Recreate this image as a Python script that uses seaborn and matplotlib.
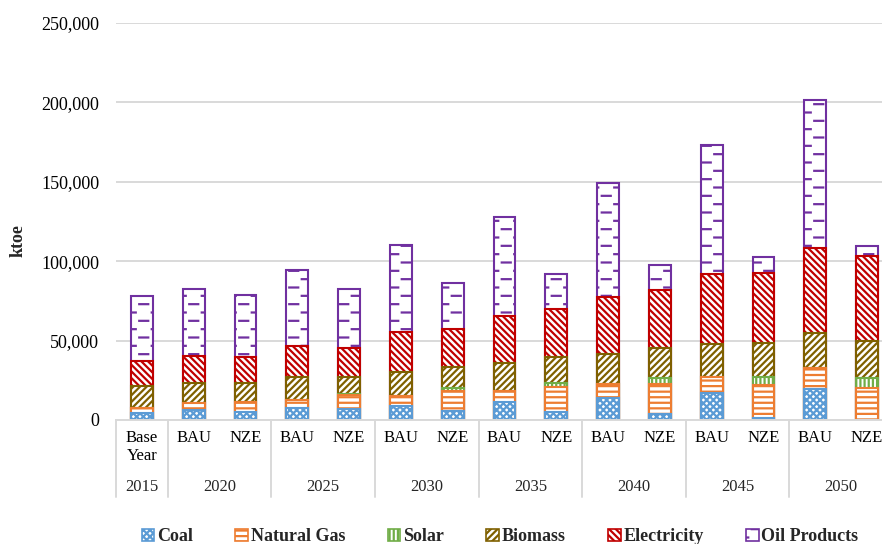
import warnings
import numpy as np
import pandas as pd
import matplotlib
matplotlib.use("Agg")
import matplotlib.pyplot as plt
import matplotlib.patches as mpatches
from matplotlib import hatch as mhatch
from matplotlib.path import Path
from matplotlib.ticker import FuncFormatter
import seaborn as sns

warnings.filterwarnings("ignore")

# data (ktoe), one value per bar slot
years = ['2015', '2020', '2025', '2030', '2035', '2040', '2045', '2050']
scenarios = ['Base\nYear'] + ['BAU', 'NZE'] * 7
slot_years = ['2015'] + [y for y in years[1:] for _ in range(2)]

coal = [4400, 6300, 5200, 7400, 6700, 9000, 5900, 11100, 4800, 13600, 3600, 16800, 1500, 19500, 0]
natural_gas = [3000, 4200, 5900, 5200, 9000, 6300, 12600, 7400, 15800, 9100, 19100, 10500, 20300, 13500, 20000]
solar = [0, 0, 0, 0, 500, 0, 1700, 0, 2900, 0, 4000, 0, 5500, 0, 6700]
biomass = [14200, 13000, 12400, 14300, 10700, 15100, 13000, 17200, 16000, 18700, 18900, 20400, 21000, 21600, 23300]
electricity = [15800, 17000, 16400, 19900, 18700, 25200, 24100, 30000, 30200, 36300, 36300, 44100, 44100, 53800, 53100]
oil_products = [40700, 42200, 38600, 47700, 36800, 54600, 28800, 62400, 22100, 71400, 15700, 81400, 10500, 93200, 6400]

fuels = ['Coal', 'Natural Gas', 'Solar', 'Biomass', 'Electricity', 'Oil Products']
colors = ['#5B9BD5', '#ED7D31', '#70AD47', '#7F6000', '#C00000', '#7030A0']
hatches = ['xxxxx', '---', '||||', '/////', '\\\\\\\\\\', '_']


class DashedHorizontal(mhatch.HatchPatternBase):
    """short dashes in staggered rows, like excel's 'dashed horizontal' fill"""
    def __init__(self, hatch, density):
        self.num_rows = hatch.count('_') * int(density) * 2
        self.per_row = 4
        self.num_vertices = self.num_rows * self.per_row * 2

    def set_vertices_and_codes(self, vertices, codes):
        i = 0
        for r in range(self.num_rows):
            y = (r + 0.5) / self.num_rows
            off = 0.25 if r % 2 == 0 else 0.75
            for c in range(self.per_row):
                xc = (c + off) / self.per_row
                vertices[i] = (xc - 0.045, y)
                vertices[i + 1] = (xc + 0.045, y)
                codes[i] = Path.MOVETO
                codes[i + 1] = Path.LINETO
                i += 2


mhatch._hatch_types.append(DashedHorizontal)

slots = [f"{y} {s}" for y, s in zip(slot_years, scenarios)]
df = pd.DataFrame({'slot': slots})
series = [coal, natural_gas, solar, biomass, electricity, oil_products]
cum = np.cumsum(np.array(series), axis=0)
for name, vals in zip(fuels, cum):
    df[name] = vals

sns.set_theme(style="white")
plt.rcParams['font.family'] = ['Liberation Serif', 'DejaVu Serif']
plt.rcParams['hatch.linewidth'] = 1.6

fig = plt.figure(figsize=(8.82, 5.44), dpi=100)
ax = fig.add_axes([116 / 882, 124 / 544, 777 / 882, 397 / 544])

# stacked bars: draw cumulative totals from the top layer down
for i in reversed(range(len(fuels))):
    sns.barplot(data=df, x='slot', y=fuels[i], order=slots, color='white',
                saturation=1, width=0.42, errorbar=None, ax=ax,
                edgecolor=colors[i], linewidth=1.5, hatch=hatches[i])

ax.set_ylim(0, 250000)
ax.set_xlim(-0.5, 14.5)
ax.set_yticks(np.arange(0, 250001, 50000))
ax.yaxis.set_major_formatter(FuncFormatter(lambda v, p: f"{int(v):,}"))
ax.yaxis.grid(True, color='#D9D9D9', linewidth=1.4)
ax.set_axisbelow(True)
for s in ['top', 'right', 'left']:
    ax.spines[s].set_visible(False)
ax.spines['bottom'].set_color('#D9D9D9')
ax.spines['bottom'].set_linewidth(1.4)

ax.set_xticks(range(len(slots)), scenarios)
ax.tick_params(axis='x', length=0, pad=7, labelsize=12, colors='black')
ax.tick_params(axis='y', length=0, pad=12, labelsize=13, colors='black')
ax.set_xlabel('')
ax.set_ylabel('')

# year group labels and separators below the axis
trans = ax.get_xaxis_transform()
for x in [-0.5, 0.5, 2.5, 4.5, 6.5, 8.5, 10.5, 12.5, 14.5]:
    ax.plot([x, x], [0, -0.195], color='#D9D9D9', linewidth=1.4,
            transform=trans, clip_on=False)
ax.text(0, -0.169, years[0], transform=trans, ha='center', va='center', fontsize=12)
for k, y in enumerate(years[1:]):
    ax.text(1.5 + 2 * k, -0.169, y, transform=trans, ha='center', va='center', fontsize=12)

fig.text(18 / 882, (544 - 241) / 544, 'ktoe', rotation=90, ha='center', va='center',
         fontsize=13, fontweight='bold')

handles = [mpatches.Patch(facecolor='white', edgecolor=c, hatch=h, linewidth=1.2, label=f)
           for f, c, h in zip(fuels, colors, hatches)]
fig.legend(handles=handles, loc='center', bbox_to_anchor=(0.567, 0.013), ncol=6,
           frameon=False, prop={'weight': 'bold', 'size': 13},
           handlelength=0.7, handleheight=0.7, handletextpad=0.15, columnspacing=2.35)

fig.savefig('out.png', dpi=100)
